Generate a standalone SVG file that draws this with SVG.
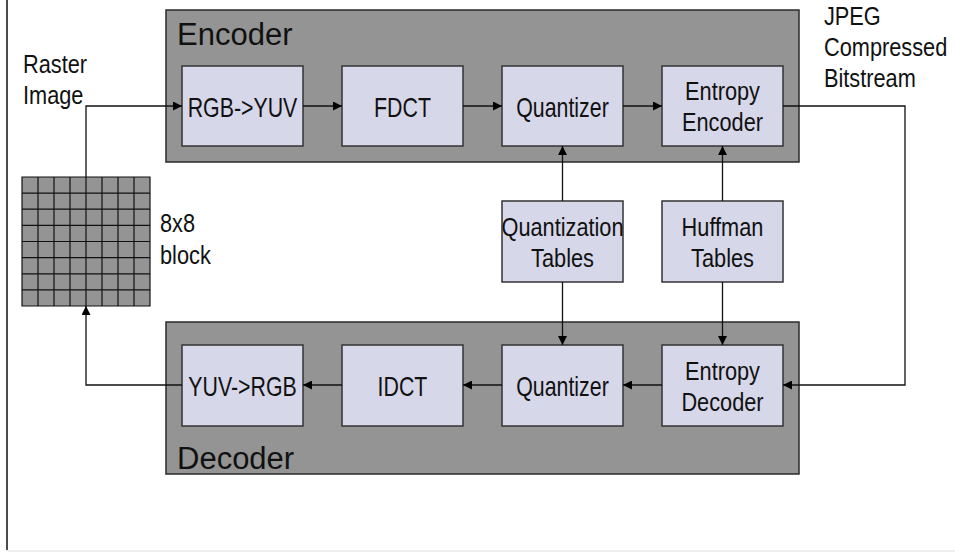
<svg xmlns="http://www.w3.org/2000/svg" width="955" height="552" viewBox="0 0 955 552">
<defs>
<style>
.grp{fill:#949494;stroke:#2a2a2a;stroke-width:1.5}
.nd{fill:#d7d7ea;stroke:#333;stroke-width:1.5}
.t{font-family:"Liberation Sans",Arial,sans-serif;fill:#111}
.l1{font-size:27px;text-anchor:middle}
.l2{font-size:25px;text-anchor:middle}
.side{font-size:25px}
.title{font-size:31px}
.c{fill:none;stroke:#111;stroke-width:1.3}
.grid{fill:none;stroke:#111;stroke-width:1.2}
</style>
<marker id="ah" viewBox="0 0 10 10" refX="10" refY="5" markerWidth="10" markerHeight="9" markerUnits="userSpaceOnUse" orient="auto">
<path d="M0,0 L10,5 L0,10 z" fill="#000"/>
</marker>
</defs>
<rect width="955" height="552" fill="#fff"/>
<line x1="7" y1="0" x2="7" y2="550" stroke="#111" stroke-width="1.5"/>
<line x1="7" y1="551" x2="955" y2="551" stroke="#ddd" stroke-width="1.2"/>

<g id="encoder-group">
<rect class="grp" x="166" y="10" width="633" height="152"/>
<text class="t title" x="177" y="45">Encoder</text>
</g>
<g id="decoder-group">
<rect class="grp" x="166" y="322" width="633" height="152"/>
<text class="t title" x="177" y="469">Decoder</text>
</g>

<g id="raster-label"><text class="t side" transform="translate(23,73) scale(0.87,1)">Raster</text><text class="t side" transform="translate(23,104) scale(0.87,1)">Image</text></g>
<g id="block-label"><text class="t side" transform="translate(160,232) scale(0.87,1)">8x8</text><text class="t side" transform="translate(160,264) scale(0.87,1)">block</text></g>
<g id="jpeg-label"><text class="t side" transform="translate(824,25) scale(0.87,1)">JPEG</text><text class="t side" transform="translate(824,56) scale(0.87,1)">Compressed</text><text class="t side" transform="translate(824,87) scale(0.87,1)">Bitstream</text></g>

<g id="block8x8">
<rect x="22" y="177" width="128" height="129" fill="#949494"/>
<path class="grid" d="M22,177H150V306H22Z M38,177V306 M54,177V306 M70,177V306 M86,177V306 M102,177V306 M118,177V306 M134,177V306 M22,193.1H150 M22,209.2H150 M22,225.4H150 M22,241.5H150 M22,257.6H150 M22,273.8H150 M22,289.9H150"/>
</g>

<g id="rgb2yuv"><rect class="nd" x="182" y="66" width="121" height="80"/><text class="t l1" transform="translate(242.5,117) scale(0.79,1)">RGB-&gt;YUV</text></g>
<g id="fdct"><rect class="nd" x="342" y="66" width="121" height="80"/><text class="t l1" transform="translate(402.5,117) scale(0.79,1)">FDCT</text></g>
<g id="quantizer-enc"><rect class="nd" x="502" y="66" width="121" height="80"/><text class="t l1" transform="translate(562.5,117) scale(0.79,1)">Quantizer</text></g>
<g id="entropy-encoder"><rect class="nd" x="662" y="66" width="121" height="80"/><text class="t l2" transform="translate(722.5,99.5) scale(0.87,1)">Entropy</text><text class="t l2" transform="translate(722.5,131) scale(0.87,1)">Encoder</text></g>

<g id="quant-tables"><rect class="nd" x="502" y="201" width="121" height="81"/><text class="t l2" transform="translate(562.5,236) scale(0.87,1)">Quantization</text><text class="t l2" transform="translate(562.5,267) scale(0.87,1)">Tables</text></g>
<g id="huffman-tables"><rect class="nd" x="662" y="201" width="121" height="81"/><text class="t l2" transform="translate(722.5,236) scale(0.87,1)">Huffman</text><text class="t l2" transform="translate(722.5,267) scale(0.87,1)">Tables</text></g>

<g id="yuv2rgb"><rect class="nd" x="182" y="345" width="121" height="81"/><text class="t l1" transform="translate(242.5,396) scale(0.79,1)">YUV-&gt;RGB</text></g>
<g id="idct"><rect class="nd" x="342" y="345" width="121" height="81"/><text class="t l1" transform="translate(402.5,396) scale(0.79,1)">IDCT</text></g>
<g id="quantizer-dec"><rect class="nd" x="502" y="345" width="121" height="81"/><text class="t l1" transform="translate(562.5,396) scale(0.79,1)">Quantizer</text></g>
<g id="entropy-decoder"><rect class="nd" x="662" y="345" width="121" height="81"/><text class="t l2" transform="translate(722.5,379.5) scale(0.87,1)">Entropy</text><text class="t l2" transform="translate(722.5,411) scale(0.87,1)">Decoder</text></g>

<g id="connectors">
<path class="c" d="M86,177V106H182" marker-end="url(#ah)"/>
<path class="c" d="M303,106H342" marker-end="url(#ah)"/>
<path class="c" d="M463,106H502" marker-end="url(#ah)"/>
<path class="c" d="M623,106H662" marker-end="url(#ah)"/>
<path class="c" d="M562.5,201V146" marker-end="url(#ah)"/>
<path class="c" d="M722.5,201V146" marker-end="url(#ah)"/>
<path class="c" d="M562.5,282V345" marker-end="url(#ah)"/>
<path class="c" d="M722.5,282V345" marker-end="url(#ah)"/>
<path class="c" d="M783,106H905V385H783" marker-end="url(#ah)"/>
<path class="c" d="M662,385H623" marker-end="url(#ah)"/>
<path class="c" d="M502,385H463" marker-end="url(#ah)"/>
<path class="c" d="M342,385H303" marker-end="url(#ah)"/>
<path class="c" d="M182,385H86V306" marker-end="url(#ah)"/>
</g>
</svg>
